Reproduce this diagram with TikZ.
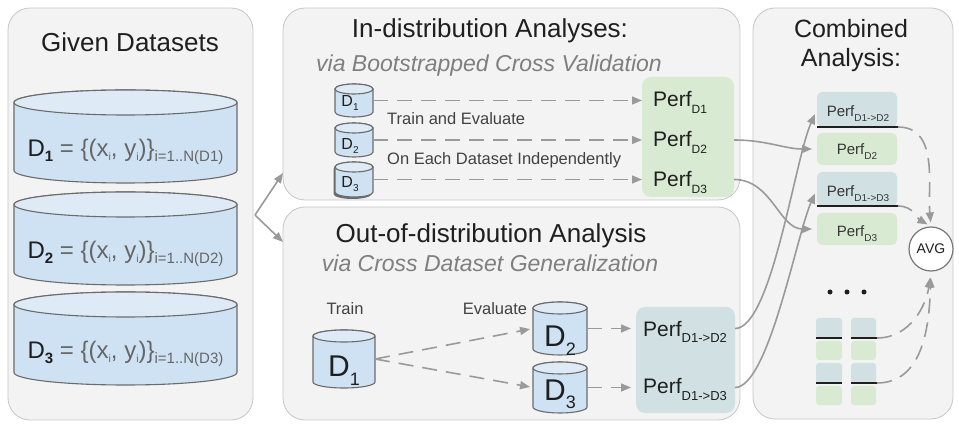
\documentclass[tikz,border=0pt]{standalone}
\usepackage{fontspec}
\setmainfont{Liberation Sans}
\usetikzlibrary{arrows.meta,calc,shadows}

\definecolor{panelfill}{HTML}{F3F3F3}
\definecolor{panelline}{HTML}{C6C6C6}
\definecolor{cylfill}{HTML}{CFE2F3}
\definecolor{cyltopfill}{HTML}{DEEAF6}
\definecolor{cylline}{HTML}{6B6B6B}
\definecolor{boxblue}{HTML}{D0E0E3}
\definecolor{boxgreen}{HTML}{D9EAD3}
\definecolor{arrowgray}{HTML}{9A9A9A}
\definecolor{subgray}{HTML}{7F7F7F}
\definecolor{txtgray}{HTML}{666666}
\definecolor{txt}{HTML}{1F1F1F}
\definecolor{avgline}{HTML}{777777}

\newcommand\fs[1]{\fontsize{#1}{#1}\selectfont}
\newcommand\lsub[3]{\raisebox{-#1pt}{\fs{#2}#3}}

\newcommand\cylshape[7]{%
  \node[inner sep=0pt, outer sep=0pt, minimum width=#4pt, minimum height=#5pt, anchor=north] (#1) at (#2,#3) {};
  \path[cylbody,#7] ($(#1.north west)+(0,-#6)$) -- ($(#1.south west)+(0,#6)$)
    arc[start angle=180, end angle=360, x radius=#4pt/2, y radius=#6pt]
    -- ($(#1.north east)+(0,-#6)$)
    arc[start angle=0, end angle=180, x radius=#4pt/2, y radius=#6pt] -- cycle;
  \path[cyltop] ($(#1.north)+(0,-#6)$) ellipse[x radius=#4pt/2, y radius=#6pt];
}
\newcommand\dsetlabel[1]{D\lsub{5}{15}{\bfseries #1} {\color{txtgray}= \{(x\lsub{3.5}{10.5}{i}, y\lsub{3.5}{10.5}{i})\}\lsub{5}{15}{i=1..N(D#1)}}}

\begin{document}
\begin{tikzpicture}[x=1pt,y=1pt,
  panel/.style={draw=panelline, fill=panelfill, rounded corners=22pt, line width=0.8pt, inner sep=0pt, outer sep=0pt},
  cylbody/.style={fill=cylfill, draw=cylline, line width=1.1pt},
  cyltop/.style={fill=cyltopfill, draw=cylline, line width=1.1pt},
  title/.style={font=\fs{26}, text=txt, anchor=base, inner sep=0pt},
  subtitle/.style={font=\fs{23}\itshape, text=subgray, anchor=base, inner sep=0pt},
  small/.style={font=\fs{16.5}, text=txt!85, inner sep=0pt},
  perf/.style={anchor=base west, font=\fs{21}, inner sep=0pt, text=txt},
  rperf/.style={anchor=base, font=\fs{15}, inner sep=0pt, text=txt!90},
  greenbox/.style={fill=boxgreen, rounded corners=9pt, inner sep=0pt, outer sep=0pt},
  bluebox/.style={fill=boxblue, rounded corners=9pt, inner sep=0pt, outer sep=0pt},
  sbluebox/.style={fill=boxblue, rounded corners=3pt, inner sep=0pt, outer sep=0pt},
  sgreenbox/.style={fill=boxgreen, rounded corners=3pt, inner sep=0pt, outer sep=0pt},
  garrow/.style={draw=arrowgray, line width=1.6pt, -{Triangle[length=10pt,width=8pt]}},
  dasharrow/.style={garrow, dash pattern=on 15pt off 9pt},
  sepline/.style={draw=txt, line width=1.8pt},
  bigdot/.style={circle, fill=txt, inner sep=0pt, minimum size=5pt},
]
\useasboundingbox (0,0) rectangle (959,426);

% panels
\node[panel, minimum width=245pt, minimum height=412pt, anchor=south west] (pleft) at (8,6) {};
\node[panel, minimum width=457pt, minimum height=192pt, anchor=south west] (ptop) at (283,226) {};
\node[panel, minimum width=457pt, minimum height=213pt, anchor=south west] (pbot) at (283,6) {};
\node[panel, minimum width=200pt, minimum height=411pt, anchor=south west] (pright) at (753,7) {};

% titles
\node[title] (tgiven) at (130,374) {Given Datasets};
\node[title] (tin) at (490,388) {In-distribution Analyses:};
\node[subtitle] (sin) at (489,354) {via Bootstrapped Cross Validation};
\node[title] (tout) at (491,183) {Out-of-distribution Analysis};
\node[subtitle] (sout) at (490,154) {via Cross Dataset Generalization};
\node[title, font=\fs{25}] (tcomb1) at (851,388) {Combined};
\node[title, font=\fs{25}] (tcomb2) at (851,359) {Analysis:};

% given datasets
\cylshape{d1}{125.5}{336}{223}{93}{12.5}{}
\cylshape{d2}{125.5}{234}{223}{93}{12.5}{}
\cylshape{d3}{125.5}{134}{223}{93}{12.5}{}
\node[anchor=base, inner sep=0pt, font=\fs{24}, text=txt] (ld1) at (125.5,269) {\dsetlabel{1}};
\node[anchor=base, inner sep=0pt, font=\fs{24}, text=txt] (ld2) at (125.5,167) {\dsetlabel{2}};
\node[anchor=base, inner sep=0pt, font=\fs{24}, text=txt] (ld3) at (125.5,67) {\dsetlabel{3}};

% split arrows
\coordinate (split) at (255,211);
\draw[garrow] (split) -- ($(ptop.south west)+(0,27)$);
\draw[garrow] (split) -- ($(pbot.north west)+(0,-35)$);

% in-distribution
\node[greenbox, minimum width=92pt, minimum height=120pt, anchor=south west] (gbox) at (642,229) {};
\cylshape{sd1}{354}{342}{38}{33}{5}{}
\cylshape{sd2}{354}{303}{38}{34}{5}{}
\cylshape{sd3}{354}{264}{38}{35}{5}{drop shadow={shadow xshift=-1.5pt, shadow yshift=-2pt, opacity=0.55, fill=black}}
\node[anchor=base, inner sep=0pt, font=\fs{16}, text=txt] (lsd1) at (350,319) {D\lsub{4}{10}{1}};
\node[anchor=base, inner sep=0pt, font=\fs{16}, text=txt] (lsd2) at (350,276) {D\lsub{4}{10}{2}};
\node[anchor=base, inner sep=0pt, font=\fs{16}, text=txt] (lsd3) at (350,238) {D\lsub{4}{10}{3}};
\node[perf] (pd1) at (653,319) {Perf\lsub{7}{12}{D1}};
\node[perf] (pd2) at (653,279) {Perf\lsub{7}{12}{D2}};
\node[perf] (pd3) at (653,239) {Perf\lsub{7}{12}{D3}};
\draw[dasharrow] (sd1.east) -- (sd1.east -| gbox.west);
\draw[dasharrow] (sd2.east) -- (sd2.east -| gbox.west);
\draw[dasharrow] (sd3.east) -- (sd3.east -| gbox.west);
\node[small, anchor=base west] (ltrain) at (387,301) {Train and Evaluate};
\node[small, anchor=base west] (lindep) at (387,261) {On Each Dataset Independently};

% out-of-distribution
\node[small, anchor=base] (ltr) at (345,111) {Train};
\node[small, anchor=base] (lev) at (495,111) {Evaluate};
\node[bluebox, minimum width=99pt, minimum height=106pt, anchor=south west] (bbox) at (636,13) {};
\cylshape{bd1}{344}{96}{62}{58}{6}{}
\cylshape{bd2}{560}{124}{54}{53}{6}{}
\cylshape{bd3}{560}{64}{54}{51}{6}{}
\node[anchor=base, inner sep=0pt, font=\fs{30}, text=txt] (lbd1) at (344,49) {D\lsub{8}{18}{1}};
\node[anchor=base, inner sep=0pt, font=\fs{30}, text=txt] (lbd2) at (560,79) {D\lsub{8}{18}{2}};
\node[anchor=base, inner sep=0pt, font=\fs{30}, text=txt] (lbd3) at (560,26) {D\lsub{8}{18}{3}};
\node[perf] (pb2) at (643,89) {Perf\lsub{6}{13}{D1->D2}};
\node[perf] (pb3) at (643,32) {Perf\lsub{6}{13}{D1->D3}};
\draw[dasharrow, shorten >=3pt] (bd1.east) -- (bd2.west);
\draw[dasharrow, shorten >=3pt] (bd1.east) -- (bd3.west);
\draw[dasharrow, shorten >=5pt] (bd2.east) -- (bd2.east -| bbox.west);
\draw[dasharrow, shorten >=5pt] (bd3.east) -- (bd3.east -| bbox.west);

% combined analysis
\node[bluebox, rounded corners=5pt, minimum width=80pt, minimum height=35pt] (rb1) at (857,316.5) {};
\node[greenbox, rounded corners=5pt, minimum width=80pt, minimum height=32pt] (rg1) at (857,277) {};
\node[bluebox, rounded corners=5pt, minimum width=80pt, minimum height=34pt] (rb2) at (857,237) {};
\node[greenbox, rounded corners=5pt, minimum width=80pt, minimum height=32pt] (rg2) at (857,197) {};
\node[rperf] (trb1) at (858,309) {Perf\lsub{5}{10}{D1->D2}};
\node[rperf] (trg1) at (857,271) {Perf\lsub{5}{10}{D2}};
\node[rperf] (trb2) at (858,229) {Perf\lsub{5}{10}{D1->D3}};
\node[rperf] (trg2) at (857,189) {Perf\lsub{5}{10}{D3}};
\draw[sepline] (rb1.south west) -- ($(rb1.south east)+(1,0)$) coordinate (l1e);
\draw[sepline] (rb2.south west) -- ($(rb2.south east)+(1,0)$) coordinate (l2e);

\node[bigdot] (dot1) at (830,134) {};
\node[bigdot] (dot2) at (847,134) {};
\node[bigdot] (dot3) at (864,134) {};

\node[sbluebox, minimum width=26pt, minimum height=20pt] (sb11) at (829,98) {};
\node[sgreenbox, minimum width=26pt, minimum height=19pt] (sg11) at (829,75.5) {};
\node[sbluebox, minimum width=25pt, minimum height=20pt] (sb12) at (863.5,98) {};
\node[sgreenbox, minimum width=25pt, minimum height=19pt] (sg12) at (863.5,75.5) {};
\node[sbluebox, minimum width=26pt, minimum height=20pt] (sb21) at (829,53) {};
\node[sgreenbox, minimum width=26pt, minimum height=19pt] (sg21) at (829,30.5) {};
\node[sbluebox, minimum width=25pt, minimum height=20pt] (sb22) at (863.5,53) {};
\node[sgreenbox, minimum width=25pt, minimum height=19pt] (sg22) at (863.5,30.5) {};
\draw[sepline] (sb11.south west) -- (sb11.south east);
\draw[sepline] (sb12.south west) -- ($(sb12.south east)+(1,0)$) coordinate (s1e);
\draw[sepline] (sb21.south west) -- (sb21.south east);
\draw[sepline] (sb22.south west) -- ($(sb22.south east)+(1,0)$) coordinate (s2e);

\node[circle, draw=avgline, line width=1.2pt, fill=white, minimum size=44pt, inner sep=0pt, font=\fs{14}, text=txt] (avg) at (931,177) {AVG};

\draw[dasharrow, shorten >=4pt] (l1e) to[out=0,in=95] (avg.north);
\draw[dasharrow, shorten >=4pt] (l2e) to[out=0,in=150] (avg.north);
\draw[dasharrow, shorten >=6pt] (s1e) to[out=0,in=262] (avg.south);
\draw[dasharrow, shorten >=6pt] (s2e) to[out=0,in=268] (avg.south);

% connectors into combined analysis
\draw[garrow, shorten >=5pt] (gbox.east |- sd2.east) to[out=0,in=180] (rg1.west);
\draw[garrow, shorten >=5pt] (gbox.east |- sd3.east) to[out=0,in=180] (rg2.west);
\draw[garrow, shorten >=5pt] (bbox.east |- bd2.east) to[out=0,in=246,out looseness=0.4,in looseness=0.6] (rb1.west);
\draw[garrow, shorten >=5pt] (bbox.east |- bd3.east) to[out=0,in=246,out looseness=0.4,in looseness=0.6] (rb2.west);
\end{tikzpicture}
\end{document}
